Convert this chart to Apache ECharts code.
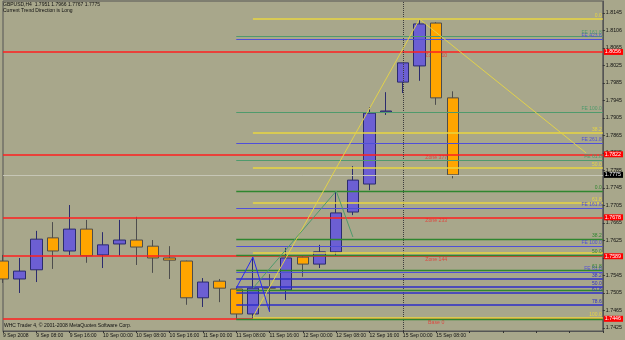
<!DOCTYPE html>
<html>
<head>
<meta charset="utf-8">
<script src="https://cdn.jsdelivr.net/npm/echarts@6/dist/echarts.min.js"></script>
<style>
  html, body { margin: 0; padding: 0; background: #a8a78b; }
  #chart { width: 625px; height: 340px; }
</style>
</head>
<body>
<div id="chart"></div>
<script>
// H4 bars, the last ones are the empty shift area on the right
const categories = [
  '9 Sep 2008', '9 Sep 04:00', '9 Sep 08:00', '9 Sep 12:00', '9 Sep 16:00', '9 Sep 20:00',
  '10 Sep 00:00', '10 Sep 04:00', '10 Sep 08:00', '10 Sep 12:00', '10 Sep 16:00', '10 Sep 20:00',
  '11 Sep 00:00', '11 Sep 04:00', '11 Sep 08:00', '11 Sep 12:00', '11 Sep 16:00', '11 Sep 20:00',
  '12 Sep 00:00', '12 Sep 04:00', '12 Sep 08:00', '12 Sep 12:00', '12 Sep 16:00', '12 Sep 20:00',
  '15 Sep 00:00', '15 Sep 04:00', '15 Sep 08:00', '15 Sep 12:00', '15 Sep 16:00', '15 Sep 20:00',
  '16 Sep 00:00', '16 Sep 04:00', '16 Sep 08:00', '16 Sep 12:00', '16 Sep 16:00', '16 Sep 20:00',
  '17 Sep 00:00'
]
const lastLabelIndex = 26

// [open, close, low, high]
const candles = [
  [1.7578, 1.7537, 1.7528, 1.7592],
  [1.7537, 1.7555, 1.7505, 1.7585],
  [1.7558, 1.7628, 1.7530, 1.7647],
  [1.7631, 1.7601, 1.7560, 1.7667],
  [1.7601, 1.7651, 1.7592, 1.7706],
  [1.7651, 1.7590, 1.7574, 1.7672],
  [1.7592, 1.7615, 1.7562, 1.7644],
  [1.7617, 1.7626, 1.7590, 1.7672],
  [1.7626, 1.7610, 1.7569, 1.7679],
  [1.7612, 1.7585, 1.7551, 1.7626],
  [1.7585, 1.7580, 1.7537, 1.7612],
  [1.7578, 1.7494, 1.7478, 1.7579],
  [1.7494, 1.7530, 1.7473, 1.7539],
  [1.7532, 1.7516, 1.7484, 1.7537],
  [1.7514, 1.7457, 1.7446, 1.7519],
  [1.7457, 1.7516, 1.7448, 1.7587],
  [1.7517, 1.7516, 1.7462, 1.7548],
  [1.7512, 1.7585, 1.7489, 1.7608],
  [1.7587, 1.7571, 1.7542, 1.7590],
  [1.7571, 1.7599, 1.7562, 1.7615],
  [1.7599, 1.7688, 1.7592, 1.7738],
  [1.7690, 1.7763, 1.7683, 1.7795],
  [1.7754, 1.7916, 1.7740, 1.7930],
  [1.7919, 1.7921, 1.7912, 1.7964],
  [1.7987, 1.8031, 1.7962, 1.8031],
  [1.8024, 1.8120, 1.7990, 1.8131],
  [1.8122, 1.7951, 1.7935, 1.8124],
  [1.7951, 1.7775, 1.7767, 1.7966]
]

const yTicks = [1.8145, 1.8106, 1.8065, 1.8025, 1.7985, 1.7945, 1.7905, 1.7865, 1.7825, 1.7785,
  1.7745, 1.7705, 1.7665, 1.7625, 1.7585, 1.7545, 1.7505, 1.7465, 1.7425]

const zoneLevels = [1.8056, 1.7822, 1.7678, 1.7589, 1.7446]
const zoneNames = ['Zone 610', 'Zone 377', 'Zone 233', 'Zone 144', 'Base 0']
const zoneLabelIndex = 26
const bidPrice = 1.7775

const yellowLevels = [1.8131, 1.7871, 1.7791, 1.7711, 1.7596, 1.7448]
const yellowNames = ['0.0', '38.2', '50.0', '61.8', '', '100.0']
const greenLevels = [1.7738, 1.7628, 1.7592, 1.7558, 1.7512, 1.7446]
const greenNames = ['0.0', '38.2', '50.0', '61.8', '', '']
const tealLevels = [1.8092, 1.7919, 1.7809]
const tealNames = ['FE 161.8', 'FE 100.0', 'FE 61.8']
const purpleLevels = [1.8086, 1.7848, 1.7699, 1.7612, 1.7553]
const purpleNames = ['FE 423.6', 'FE 261.8', 'FE 161.8', 'FE 100.0', 'FE 61.8']
const blueLevels = [1.7537, 1.7519, 1.7505, 1.7478]
const blueNames = ['38.2', '50.0', '61.8', '78.6']

// zigzag / trend lines: [bar index, price]
const yellowPath = [[15, 1.7450], [25, 1.8131], [35, 1.7825]]
const tealPath = [[15, 1.7516], [20, 1.7738], [21, 1.7633]]
const bluePath = [[14, 1.7516], [15, 1.7587], [16, 1.7462]]
const separatorIndex = 24

const lastIndex = categories.length - 1
const font = 'Liberation Sans'

// horizontal fibo levels from a start bar to the right edge
const levelLines = (levels, names, from, color, width) => {
  return levels.map((v, i) => [
    {
      coord: [from, v],
      lineStyle: { color: color, width: width, type: 'solid' },
      label: {
        show: names[i] !== '',
        position: 'insideEndTop',
        formatter: names[i],
        color: color,
        fontSize: 5,
        fontFamily: font,
        distance: 1
      }
    },
    { coord: [lastIndex, v] }
  ])
}

const pathLines = (path, color, width) => {
  const result = []
  for (let i = 0; i < path.length - 1; i++) {
    result.push([
      { coord: path[i], lineStyle: { color: color, width: width, type: 'solid' }, label: { show: false } },
      { coord: path[i + 1] }
    ])
  }
  return result
}

const priceBadge = (bg) => ({
  show: true,
  position: 'end',
  formatter: (p) => Number(p.value).toFixed(4),
  backgroundColor: bg,
  color: '#fff',
  fontSize: 5.3,
  fontFamily: font,
  padding: [1, 2, 0, 1],
  distance: 1
})

const markLines = [
  ...zoneLevels.map(v => ({
    yAxis: v,
    lineStyle: { color: '#ff1f1f', width: 1.5, type: 'solid' },
    label: priceBadge('#ff0000')
  })),
  {
    yAxis: bidPrice,
    lineStyle: { color: '#c6c6b6', width: 1, type: 'solid' },
    label: priceBadge('#000000')
  },
  { xAxis: separatorIndex, lineStyle: { color: '#3c3c3c', width: 1, type: 'dotted' }, label: { show: false } },
  ...levelLines(purpleLevels, purpleNames, 14, '#4f4fd8', 1.2),
  ...levelLines(tealLevels, tealNames, 14, '#4f9a6c', 1.2),
  ...levelLines(yellowLevels, yellowNames, 15, '#e8d640', 1.6),
  ...levelLines(greenLevels, greenNames, 14, '#2f862f', 1.4),
  ...levelLines(blueLevels, blueNames, 14, '#2e2ec8', 1.6),
  ...pathLines(yellowPath, '#e2d24a', 1),
  ...pathLines(tealPath, '#4f9a6c', 1),
  ...pathLines(bluePath, '#2a2af0', 1)
]

const chart = echarts.init(document.getElementById('chart'))

const option = {
  animation: false,
  backgroundColor: '#a8a78b',
  textStyle: { fontFamily: font },
  title: [
    {
      left: 3,
      top: 2,
      padding: 0,
      itemGap: 1,
      text: 'GBPUSD,H4  1.7951 1.7966 1.7767 1.7775',
      textStyle: { fontSize: 5, fontWeight: 'normal', color: '#111', fontFamily: font },
      subtext: 'Current Trend Direction is Long',
      subtextStyle: { fontSize: 5, color: '#111', fontFamily: font }
    },
    {
      left: 4,
      top: 323,
      padding: 0,
      text: 'WHC Trader 4, © 2001-2008 MetaQuotes Software Corp.',
      textStyle: { fontSize: 5, fontWeight: 'normal', color: '#111', fontFamily: font }
    }
  ],
  grid: {
    show: true,
    left: 2,
    right: 20,
    top: 1,
    bottom: 9,
    borderColor: '#555',
    borderWidth: 1
  },
  xAxis: {
    type: 'category',
    data: categories,
    boundaryGap: false,
    axisLine: { show: true, lineStyle: { color: '#555' } },
    axisTick: { show: true, interval: 1, length: 2, lineStyle: { color: '#333' } },
    axisLabel: {
      interval: 1,
      align: 'left',
      margin: 2,
      fontSize: 5,
      color: '#111',
      fontFamily: font,
      formatter: (v, i) => (i <= lastLabelIndex ? v : '')
    },
    splitLine: { show: false }
  },
  yAxis: {
    type: 'value',
    position: 'right',
    min: 1.74181,
    max: 1.81724,
    splitLine: { show: false },
    axisLine: { show: true, lineStyle: { color: '#555' } },
    axisTick: { show: true, length: 2, customValues: yTicks, lineStyle: { color: '#333' } },
    axisLabel: {
      customValues: yTicks,
      formatter: (v) => v.toFixed(4),
      fontSize: 5.3,
      color: '#111',
      fontFamily: font,
      margin: 3
    }
  },
  series: [
    {
      name: 'levels',
      type: 'scatter',
      z: 1,
      symbolSize: 0,
      silent: true,
      data: zoneLevels.map(v => [zoneLabelIndex, v]),
      label: {
        show: true,
        position: 'bottom',
        distance: 1,
        formatter: (p) => zoneNames[p.dataIndex],
        color: '#e8322e',
        fontSize: 5.2,
        fontFamily: font
      },
      markLine: {
        silent: true,
        precision: 4,
        symbol: ['none', 'none'],
        animation: false,
        label: { show: false },
        data: markLines
      }
    },
    {
      name: 'K线',
      type: 'candlestick',
      z: 3,
      barWidth: 12,
      data: candles,
      itemStyle: {
        color: '#6c5fd3',
        color0: '#ffa500',
        borderColor: '#2b2b6e',
        borderColor0: '#4d4d4d',
        borderWidth: 1
      }
    }
  ]
}

chart.setOption(option)
</script>
</body>
</html>
